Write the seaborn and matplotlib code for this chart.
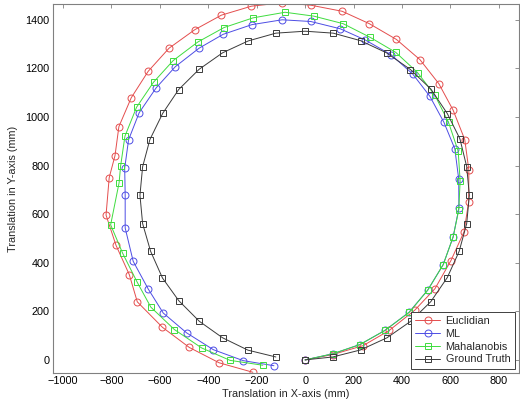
import matplotlib
matplotlib.use("Agg")
import matplotlib.pyplot as plt
import numpy as np
import pandas as pd
import seaborn as sns

# Estimated trajectories (mm), one point per step around the loop
euclid_x = [0, 114, 240, 347, 453, 536, 602, 656, 675, 676, 659, 611, 552, 474,
            377, 265, 153, 24, -95, -222, -346, -456, -562, -648, -718, -769,
            -785, -809, -822, -781, -726, -693, -589, -478, -355, -216]
euclid_y = [0, 22, 59, 121, 205, 293, 409, 527, 650, 781, 907, 1028, 1137, 1236,
            1319, 1384, 1435, 1460, 1470, 1456, 1419, 1359, 1283, 1188, 1079, 960,
            841, 750, 596, 472, 351, 239, 134, 51, -12, -51]

ml_x = [0, 114, 226, 329, 429, 506, 570, 611, 635, 634, 618, 573, 515, 444,
        355, 248, 145, 23, -95, -220, -339, -438, -536, -615, -685, -729,
        -745, -743, -743, -710, -648, -586, -489, -379, -256, -129]
ml_y = [0, 25, 63, 121, 196, 287, 392, 506, 625, 745, 869, 978, 1085, 1177,
        1256, 1317, 1363, 1393, 1400, 1380, 1340, 1283, 1207, 1120, 1018, 906,
        789, 679, 543, 406, 292, 193, 111, 42, -3, -24]

maha_x = [0, 114, 226, 329, 430, 506, 570, 611, 634, 640, 632, 592, 536, 464,
          374, 268, 157, 36, -83, -215, -335, -444, -545, -626, -696, -744,
          -762, -768, -803, -753, -693, -637, -540, -427, -310, -175]
maha_y = [0, 25, 63, 121, 196, 287, 392, 506, 616, 735, 859, 978, 1089, 1183,
          1266, 1328, 1384, 1415, 1431, 1408, 1368, 1308, 1232, 1143, 1040, 921,
          797, 730, 556, 438, 319, 217, 125, 49, -2, -22]

truth_x = [0, 114, 229, 338, 436, 519, 587, 636, 667, 678, 667, 639, 587, 519,
           435, 336, 229, 116, 0, -121, -235, -341, -438, -522, -588, -641,
           -671, -682, -671, -638, -589, -522, -437, -341, -236, -121]
truth_y = [0, 12, 41, 91, 159, 240, 339, 447, 561, 678, 796, 910, 1014, 1115,
           1195, 1264, 1314, 1345, 1353, 1345, 1313, 1264, 1196, 1113, 1015, 907,
           795, 678, 561, 447, 337, 244, 159, 91, 40, 12]

series = [
    ("Euclidian", euclid_x, euclid_y, "#e44d4d", "o", 5.0),
    ("ML", ml_x, ml_y, "#4d4de4", "o", 5.0),
    ("Mahalanobis", maha_x, maha_y, "#3fdc3f", "s", 4.4),
    ("Ground Truth", truth_x, truth_y, "#3a3a3a", "s", 4.4),
]

x_ticks = list(range(-1000, 801, 200))
y_ticks = list(range(0, 1401, 200))

sns.set_style("white")
plt.rcParams["font.family"] = ["Liberation Sans", "DejaVu Sans"]
plt.rcParams["font.size"] = 7.8

fig = plt.figure(figsize=(5.2, 4.08), dpi=100)
ax = fig.add_axes([53 / 520, 35 / 408, 466 / 520, 369 / 408])

for name, xs, ys, color, marker, ms in series:
    df = pd.DataFrame({"x": xs, "y": ys})
    sns.lineplot(data=df, x="x", y="y", sort=False, estimator=None, ax=ax,
                 color=color, marker=marker, markersize=ms,
                 markerfacecolor="none", markeredgecolor=color,
                 markeredgewidth=0.7, linewidth=0.7, label=name)

ax.set_xlim(-1041, 883)
ax.set_ylim(-54, 1465)
ax.set_xticks(x_ticks)
ax.set_yticks(y_ticks)
ax.set_xlabel("Translation in X-axis (mm)", fontsize=7.8, labelpad=1.5)
ax.set_ylabel("Translation in Y-axis (mm)", fontsize=7.8, labelpad=5.5)
ax.tick_params(direction="in", length=3, width=0.6, color="#808080",
               labelsize=7.8, labelcolor="black", top=True, right=True, pad=2.5)
for sp in ax.spines.values():
    sp.set_visible(True)
    sp.set_color("#808080")
    sp.set_linewidth(0.8)

leg = ax.legend(loc="lower right", fontsize=7.8, frameon=True, fancybox=False,
                edgecolor="#404040", framealpha=1, borderpad=0.4,
                labelspacing=0.25, handlelength=2.3, handletextpad=0.5,
                borderaxespad=0.4)
leg.get_frame().set_linewidth(0.7)

fig.savefig("out.png", dpi=100)
